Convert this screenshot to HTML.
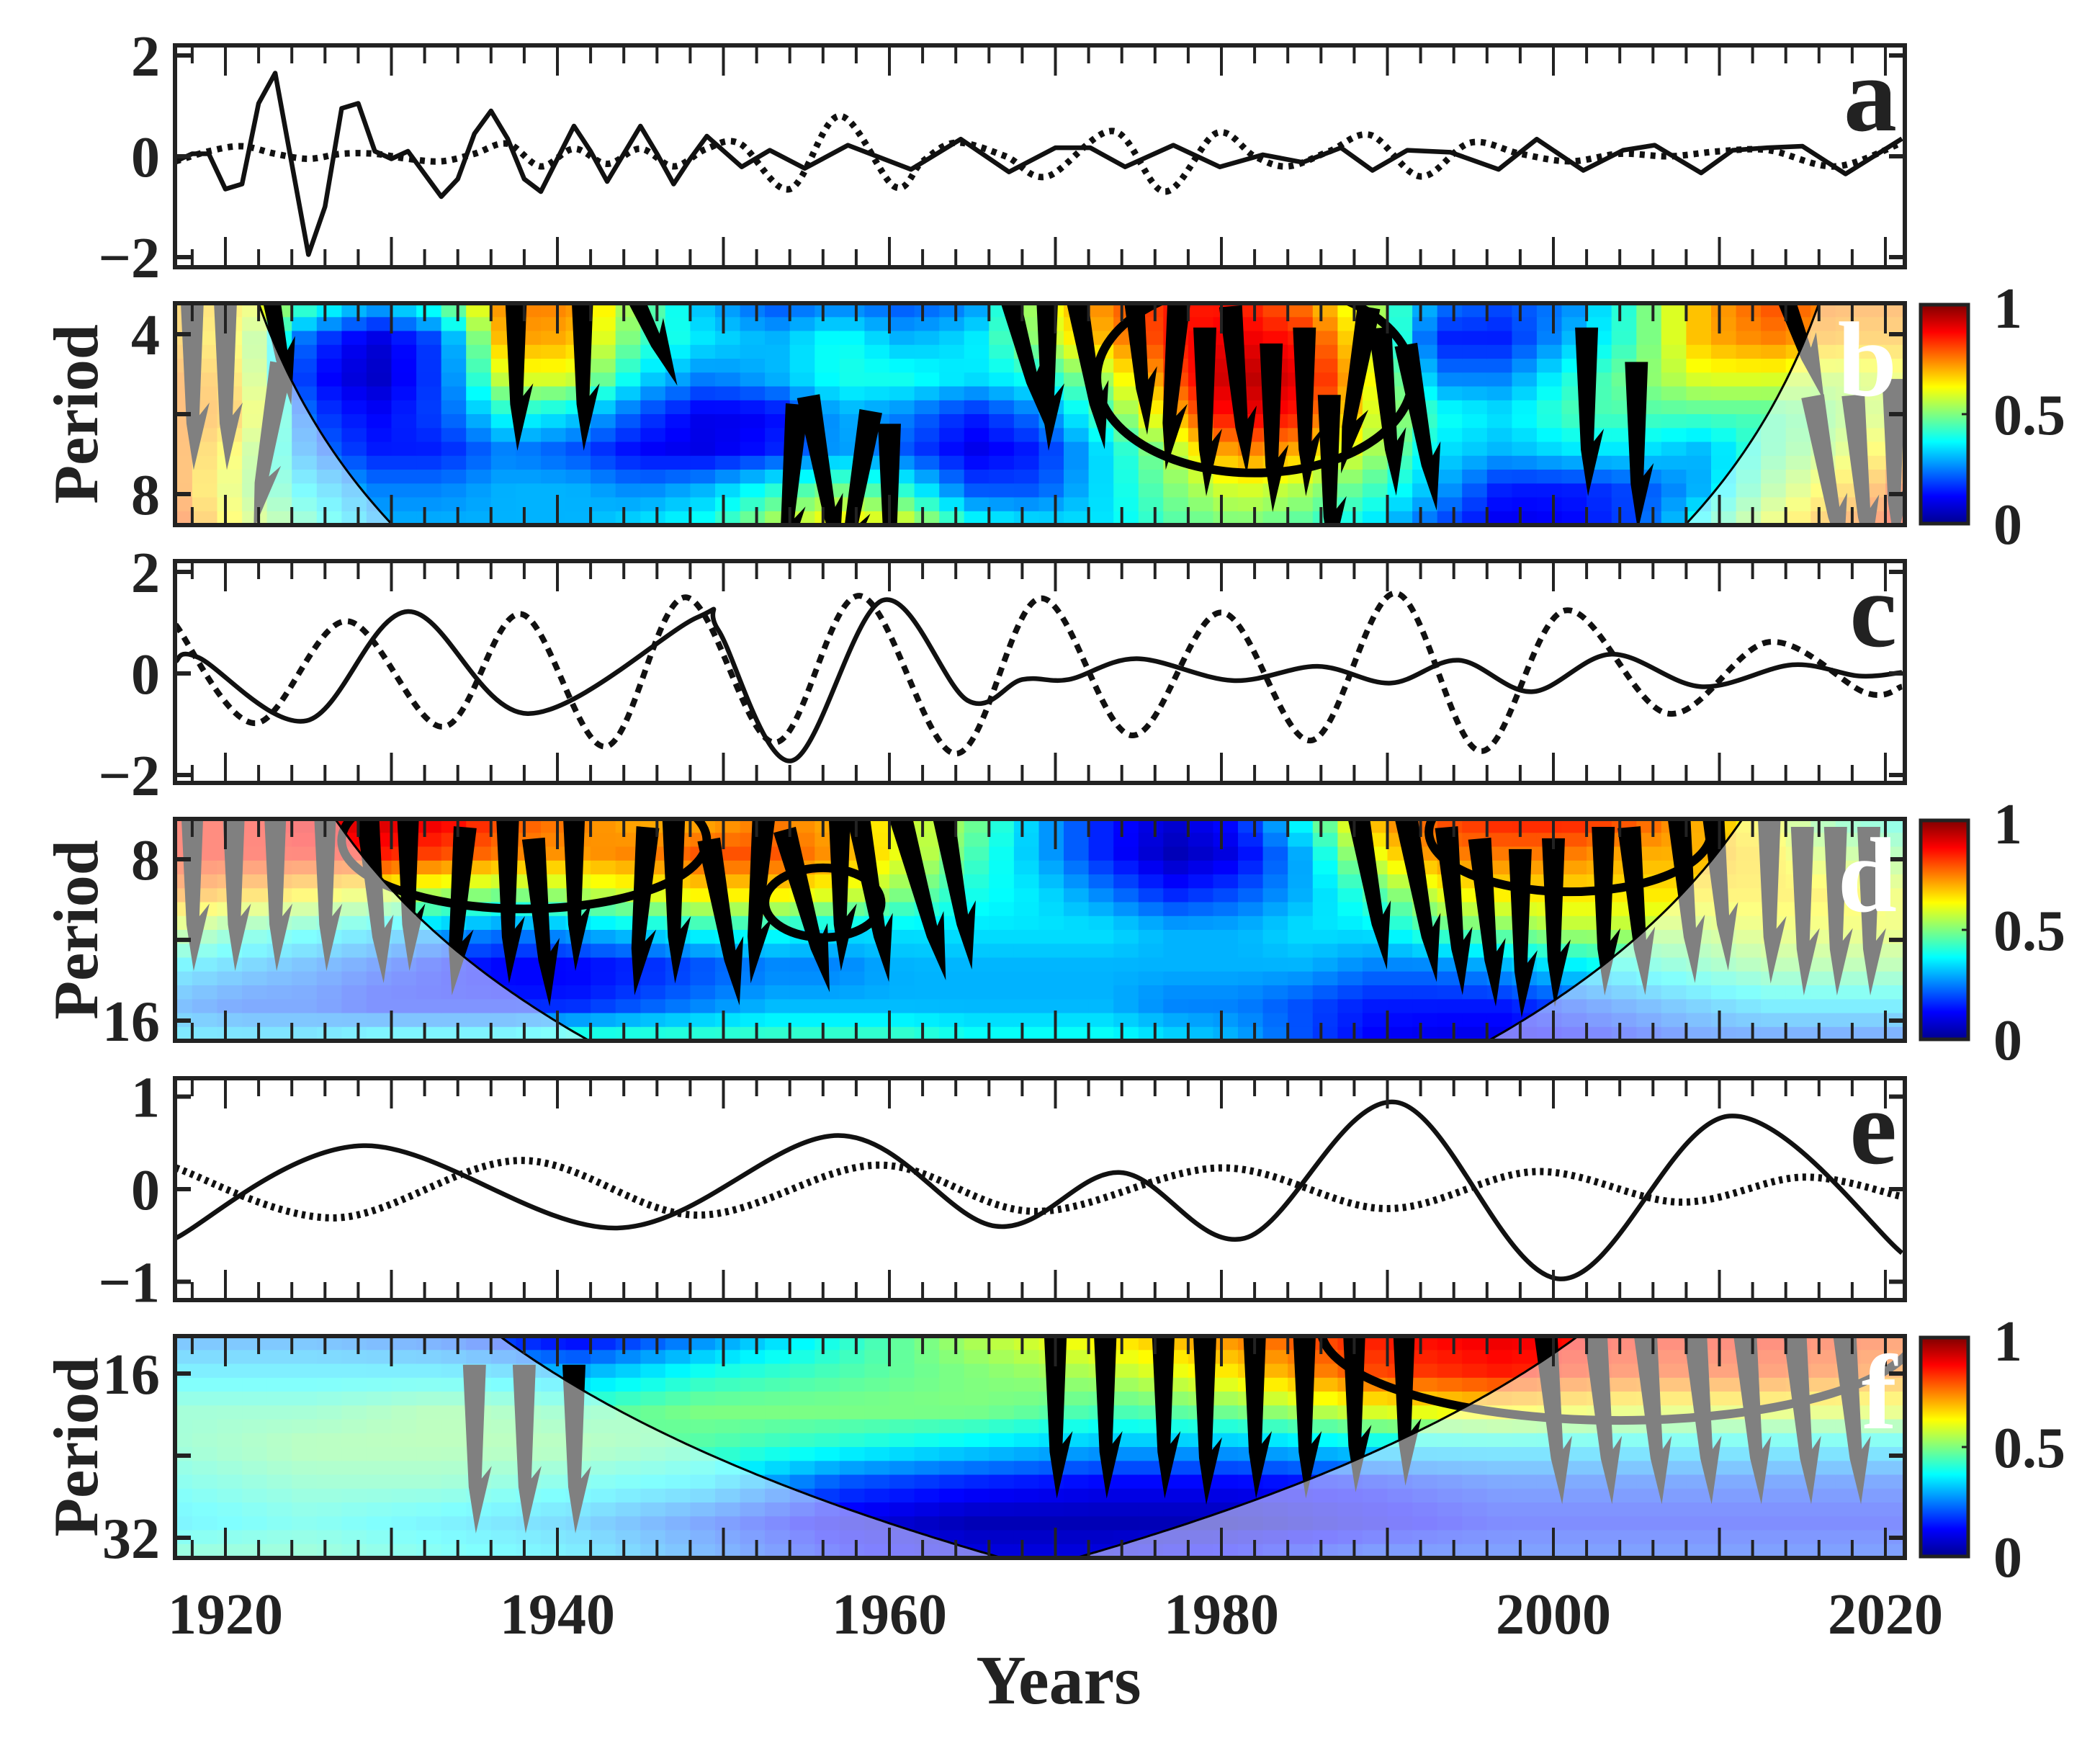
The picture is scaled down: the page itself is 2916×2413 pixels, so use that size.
<!DOCTYPE html>
<html><head><meta charset="utf-8">
<style>
html,body{margin:0;padding:0;background:#fff;}
svg{display:block;}
text{font-family:"Liberation Serif",serif;font-weight:bold;fill:#222;}
</style></head>
<body>
<svg id="fig" xmlns="http://www.w3.org/2000/svg" width="2916" height="2413" viewBox="0 0 2916 2413">
<defs>
<linearGradient id="jetgrad" x1="0" y1="1" x2="0" y2="0">
<stop offset="0" stop-color="#00008f"/><stop offset="0.125" stop-color="#0000ff"/><stop offset="0.375" stop-color="#00ffff"/><stop offset="0.625" stop-color="#ffff00"/><stop offset="0.875" stop-color="#ff0000"/><stop offset="1" stop-color="#800000"/>
</linearGradient>
</defs>
<g id="root"></g>
</svg>
<script>
const aSolidYears=[1917,1918,1919,1920,1921,1922,1923,1924,1925,1926,1927,1928,1929,1930,1931,1932,1933,1934,1935,1936,1937,1938,1939,1940,1941,1942,1943,1944,1945,1946,1947,1948,1949,1951.1,1952.8,1954.9,1957.5,1961.3,1964.3,1967.2,1970,1972.1,1974.2,1977.1,1979.9,1982.5,1984.9,1987.2,1989.1,1991.2,1993.8,1996.7,1999,2001.8,2004.2,2006.1,2008.9,2010.8,2012.9,2015,2017.6,2021];
const aSolidValues=[-0.1,0.05,0.05,-0.65,-0.55,1.05,1.65,-0.15,-1.95,-1.0,0.95,1.05,0.1,-0.05,0.1,-0.35,-0.8,-0.45,0.45,0.9,0.35,-0.45,-0.7,-0.05,0.6,0.1,-0.5,0.05,0.6,0.05,-0.55,-0.05,0.4,-0.21,0.12,-0.24,0.22,-0.26,0.34,-0.31,0.17,0.17,-0.21,0.22,-0.21,0.03,-0.12,0.17,-0.28,0.12,0.08,-0.26,0.34,-0.28,0.12,0.22,-0.33,0.12,0.17,0.2,-0.35,0.35];
const aDotYears=[1917,1919,1921,1923,1925,1927,1929,1931,1933,1935,1937,1939,1941,1943,1945,1947,1949,1951,1954,1957,1960.3,1962,1964,1967,1969.5,1973.5,1976.6,1979.7,1982,1984,1986.5,1989,1992,1995,1998,2001,2004,2007,2010,2013,2017,2021];
const aDotValues=[-0.1,0.1,0.2,0.05,-0.05,0.05,0.05,-0.05,-0.1,0.05,0.25,-0.2,0.15,-0.15,0.15,-0.2,0.15,0.25,-0.65,0.8,-0.6,-0.1,0.27,0,-0.4,0.5,-0.7,0.46,0,-0.2,0.1,0.42,-0.4,0.27,0.05,-0.1,0.05,0,0.1,0.12,-0.2,0.27];
const cSolidYears=[1917,1918.4,1924.9,1931,1938.2,1948.4,1949.7,1954.1,1959.6,1964.7,1968,1970.8,1974.9,1980.7,1985.8,1990.2,1994.3,1998.7,2003.5,2008.9,2014.4,2018.4,2021];
const cSolidValues=[0.24,0.31,-0.93,1.22,-0.79,1.1,0.85,-1.72,1.44,-0.53,-0.12,-0.12,0.29,-0.14,0.14,-0.19,0.26,-0.36,0.38,-0.26,0.17,-0.05,0.02];
const cDotYears=[1917,1921.8,1927.3,1933.1,1937.8,1942.9,1947.7,1953.1,1958.2,1964,1969.1,1974.6,1980,1985.4,1990.5,1995.6,2000.7,2006.9,2013,2018.8,2021];
const cDotValues=[0.96,-0.98,1.03,-1.05,1.17,-1.44,1.5,-1.36,1.53,-1.58,1.48,-1.22,1.2,-1.32,1.58,-1.53,1.24,-0.79,0.62,-0.38,-0.26];
const eSolidYears=[1917,1928.3,1943.6,1956.9,1966.4,1973.9,1981.4,1990.5,2000.4,2010.6,2021];
const eSolidValues=[-0.53,0.47,-0.42,0.58,-0.4,0.18,-0.53,0.94,-0.97,0.79,-0.69];
const eDotYears=[1917,1926.6,1937.8,1948.4,1959.3,1968.8,1980,1989.9,1999,2007.6,2015,2021];
const eDotValues=[0.23,-0.31,0.31,-0.28,0.26,-0.24,0.23,-0.21,0.19,-0.14,0.13,-0.08];
const bCols=[1917,1921,1925,1929,1933,1937,1941,1945,1949,1953,1957,1961,1965,1969,1973,1977,1981,1985,1989,1993,1997,2001,2005,2009,2013,2017,2021];
const bGrid=[[0.7,0.7,0.75,0.75,0.75,0.75,0.8],[0.65,0.6,0.65,0.7,0.6,0.55,0.6],[0.45,0.2,0.15,0.2,0.25,0.35,0.45],[0.3,0.08,0.06,0.12,0.15,0.25,0.3],[0.45,0.2,0.2,0.2,0.15,0.25,0.3],[0.75,0.72,0.6,0.4,0.25,0.3,0.3],[0.75,0.7,0.6,0.35,0.2,0.3,0.3],[0.5,0.45,0.35,0.2,0.12,0.25,0.35],[0.3,0.35,0.25,0.1,0.1,0.3,0.4],[0.2,0.3,0.3,0.12,0.15,0.4,0.55],[0.25,0.4,0.4,0.3,0.3,0.5,0.65],[0.2,0.3,0.4,0.25,0.2,0.4,0.6],[0.25,0.35,0.35,0.15,0.1,0.2,0.4],[0.6,0.55,0.4,0.25,0.15,0.2,0.35],[0.75,0.7,0.55,0.45,0.35,0.35,0.35],[0.85,0.85,0.8,0.7,0.55,0.5,0.45],[0.85,0.9,0.95,0.9,0.75,0.6,0.5],[0.75,0.85,0.9,0.85,0.7,0.55,0.45],[0.55,0.6,0.65,0.6,0.55,0.45,0.35],[0.25,0.15,0.25,0.4,0.35,0.3,0.2],[0.2,0.15,0.25,0.35,0.3,0.15,0.1],[0.25,0.3,0.4,0.45,0.35,0.15,0.12],[0.45,0.45,0.5,0.45,0.35,0.2,0.2],[0.7,0.7,0.6,0.45,0.3,0.3,0.4],[0.8,0.75,0.6,0.45,0.45,0.5,0.6],[0.75,0.7,0.55,0.5,0.55,0.65,0.75],[0.75,0.7,0.6,0.6,0.7,0.8,0.85]];
const dCols=bCols;
const dGrid=[[0.85,0.85,0.75,0.55,0.35,0.25,0.35],[0.85,0.85,0.7,0.45,0.3,0.2,0.35],[0.9,0.85,0.65,0.4,0.25,0.2,0.35],[0.92,0.85,0.6,0.35,0.2,0.15,0.4],[0.9,0.8,0.55,0.3,0.15,0.15,0.4],[0.8,0.75,0.5,0.25,0.12,0.15,0.4],[0.75,0.72,0.55,0.3,0.12,0.15,0.45],[0.7,0.75,0.6,0.35,0.15,0.2,0.45],[0.7,0.8,0.65,0.4,0.2,0.25,0.45],[0.75,0.8,0.65,0.4,0.25,0.3,0.45],[0.7,0.72,0.6,0.35,0.25,0.3,0.45],[0.6,0.6,0.5,0.35,0.3,0.3,0.45],[0.5,0.45,0.4,0.35,0.3,0.3,0.4],[0.3,0.3,0.35,0.35,0.3,0.3,0.4],[0.15,0.15,0.25,0.35,0.3,0.3,0.4],[0.08,0.05,0.15,0.3,0.3,0.25,0.35],[0.15,0.1,0.2,0.3,0.3,0.25,0.3],[0.4,0.3,0.3,0.35,0.3,0.2,0.2],[0.7,0.6,0.45,0.35,0.25,0.15,0.12],[0.8,0.75,0.6,0.45,0.25,0.15,0.1],[0.85,0.75,0.65,0.5,0.3,0.15,0.1],[0.85,0.75,0.65,0.55,0.35,0.2,0.12],[0.8,0.7,0.65,0.55,0.4,0.25,0.15],[0.7,0.7,0.65,0.55,0.45,0.3,0.2],[0.6,0.65,0.65,0.6,0.5,0.35,0.2],[0.45,0.55,0.65,0.6,0.5,0.35,0.2],[0.4,0.5,0.6,0.6,0.5,0.35,0.2]];
const fCols=[1917,1925,1933,1941,1949,1957,1965,1973,1981,1989,1997,2005,2013,2021];
const fGrid=[[0.25,0.35,0.45,0.45,0.4,0.35,0.45],[0.25,0.35,0.45,0.5,0.45,0.4,0.45],[0.2,0.35,0.5,0.5,0.45,0.35,0.4],[0.1,0.3,0.45,0.5,0.4,0.3,0.35],[0.25,0.4,0.5,0.45,0.35,0.2,0.25],[0.4,0.45,0.5,0.4,0.2,0.1,0.15],[0.55,0.5,0.5,0.35,0.15,0.05,0.1],[0.65,0.55,0.45,0.3,0.12,0.05,0.1],[0.75,0.65,0.5,0.3,0.12,0.05,0.15],[0.85,0.8,0.6,0.35,0.15,0.1,0.2],[0.9,0.85,0.65,0.35,0.2,0.15,0.2],[0.85,0.8,0.6,0.35,0.2,0.15,0.2],[0.85,0.8,0.6,0.35,0.2,0.15,0.2],[0.8,0.75,0.6,0.35,0.2,0.15,0.2]];
const bArrowYears=[1918,1920,1922.5,1923,1937.5,1941.5,1945,1954,1956,1958,1960,1968,1969.5,1972,1975,1977,1979,1981,1983,1985,1986.5,1988,1990,1992,2002,2005,2014.5,2016.5,2018.5,2020.5];
const bArrowPeriods=[5,5,6.5,3.8,4.6,4.6,3.6,7.8,7.5,8,8.5,4.2,4.6,4.6,4.3,5,5.6,5.1,6,5.6,7.5,5.1,5.6,6,5.6,6.5,3.8,7.5,7.5,7];
const bArrowAngles=[0,0,10,-10,0,0,-25,5,-10,10,0,-15,0,-10,-5,5,0,-5,0,0,0,10,-5,-10,0,0,-20,-10,-5,0];
const dArrowYears=[1918,1920.5,1923,1926,1929,1931,1934,1937,1939,1941,1945,1947,1950,1952,1955,1957,1959,1962,1964,1989,1992,1994,1996,1998,2000,2003,2005,2008,2010,2013,2015,2017,2019];
const dArrowPeriods=[9,9,9,9,9.5,9,10,9.5,10.5,9,10,9.5,10.5,9.5,10,9,9.5,9.5,9,9,9.5,10,10.5,11,10.5,10,10,9.5,9,9.5,10,10,10];
const dArrowAngles=[0,0,0,0,-5,0,5,0,-5,0,5,0,-10,5,-15,0,-10,-15,-10,-10,-10,-5,-5,0,0,0,-5,-5,-5,0,0,0,0];
const fArrowYears=[1935,1938,1941,1970,1973,1976.5,1979,1982,1985,1988,1991,2000,2003,2006,2009,2012,2015,2018];
const fArrowPeriods=[22,22,22,19,19,19,19.5,19,19,18.5,18,19.5,19.5,19.5,19.5,19.5,19.5,19.5];
const fArrowAngles=[0,0,0,0,0,0,0,0,0,0,0,-5,-5,-5,-5,-5,-5,-5];
const bContYears=[1982];const bContHalf=[9.5];const bContTop=[3.2];const bContBot=[7.3];
const dContYears=[1938,1956,2001];const dContHalf=[11,3.5,8.5];const dContTop=[5.5,8.3,5.5];const dContBot=[9.9,11.2,9.2];
const fContYears=[2004];const fContHalf=[18];const fContTop=[9];const fContBot=[19.5];
const xTickLabels=[1920,1940,1960,1980,2000,2020];
const coiFactor=0.7;

const SVGNS="http://www.w3.org/2000/svg";
const root=document.getElementById('root');
const L=243,R=2645,H=308;
const tops=[63,421,779,1137,1497,1855];
function X(yr){return 313+(yr-1920)*23.05;}
function mk(tag,attrs,parent){const e=document.createElementNS(SVGNS,tag);for(const k in attrs)e.setAttribute(k,attrs[k]);(parent||root).appendChild(e);return e;}
function jet(v){v=Math.max(0,Math.min(1,v));const c=t=>Math.round(255*Math.max(0,Math.min(1,1.5-Math.abs(t))));return `rgb(${c(4*v-3)},${c(4*v-2)},${c(4*v-1)})`;}
function smoothPath(px,py){let d=`M${px[0]},${py[0]}`;for(let i=0;i<px.length-1;i++){const x0=px[Math.max(0,i-1)],y0=py[Math.max(0,i-1)],x1=px[i],y1=py[i],x2=px[i+1],y2=py[i+1],x3=px[Math.min(px.length-1,i+2)],y3=py[Math.min(px.length-1,i+2)];d+=` C${x1+(x2-x0)/6},${y1+(y2-y0)/6} ${x2-(x3-x1)/6},${y2-(y3-y1)/6} ${x2},${y2}`;}return d;}
function linePath(px,py){return 'M'+px.map((x,i)=>x.toFixed(1)+','+py[i].toFixed(1)).join(' L');}

function xTicks(g,top){
  for(let yr=1918;yr<=2020;yr+=2){
    const big=yr%10===0, len=big?42:25, x=X(yr);
    const t1=mk('line',{x1:x,y1:top,x2:x,y2:top+len,stroke:'#222','stroke-width':4},g);
    
    
    const t2=mk('line',{x1:x,y1:top+H,x2:x,y2:top+H-len,stroke:'#222','stroke-width':4},g);
    
    
  }
}
function yTick(g,y,label){
  mk('line',{x1:L,y1:y,x2:L+22,y2:y,stroke:'#222','stroke-width':6},g);
  mk('line',{x1:R,y1:y,x2:R-22,y2:y,stroke:'#222','stroke-width':6},g);
  if(label!==null){const t=mk('text',{x:222,y:y,'font-size':80,'text-anchor':'end',dy:'0.35em'},g);t.textContent=label;
    
    }
}
function frame(g,top){const f=mk('rect',{x:L,y:top,width:R-L,height:H,fill:'none',stroke:'#222','stroke-width':6},g);
  
  }
function letter(g,top,ch,white){const t=mk('text',{x:2634,y:top+(white?128:118),'font-size':148,'text-anchor':'end',style:white?'fill:#fff':''},g);t.textContent=ch;
  
  }
function clip(id,top){const cp=mk('clipPath',{id:id},document.querySelector('defs'));mk('rect',{x:L,y:top,width:R-L,height:H},cp);}

function linePanel(idx,ch,zeroOff,unit,ticks,sy,sv,dy,dv,solidSmooth,dash,dw){
  const top=tops[idx];
  const g=mk('g',{});
  
  
  clip('clip'+ch,top);
  const Y=v=>top+zeroOff-v*unit;
  const inner=mk('g',{'clip-path':`url(#clip${ch})`},g);
  const dp=mk('path',{d:smoothPath(dy.map(X),dv.map(Y)),fill:'none',stroke:'#111','stroke-width':dw,'stroke-dasharray':dash},inner);
  
  
  const sp=mk('path',{d:solidSmooth?smoothPath(sy.map(X),sv.map(Y)):linePath(sy.map(X),sv.map(Y)),fill:'none',stroke:'#111','stroke-width':6.5,'stroke-linejoin':'round'},inner);
  
  
  xTicks(g,top);
  ticks.forEach(v=>yTick(g,Y(v),(v<0?'\u2212':'')+Math.abs(v)));
  frame(g,top);letter(g,top,ch,false);
}

function heatPanel(idx,ch,refP,refOff,oct,cols,grid,tickP,tickLab,ay,ap,aa,cy,ch2,ct,cb){
  const top=tops[idx];
  const g=mk('g',{});
  
  
  clip('clip'+ch,top);
  const Y=p=>top+refOff+(Math.log2(p)-Math.log2(refP))*oct;
  const inner=mk('g',{'clip-path':`url(#clip${ch})`},g);
  const nr=grid[0].length;
  const cw=1.5, rows=16, rh=H/rows;
  for(let yr=1916.5;yr<2021.5;yr+=cw){
    const yc=yr+cw/2;
    let j=0;while(j<cols.length-2&&cols[j+1]<yc)j++;
    let fx=(yc-cols[j])/(cols[j+1]-cols[j]);fx=Math.max(0,Math.min(1,fx));
    for(let r=0;r<rows;r++){
      const rp=(r+0.5)/rows*(nr-1);
      const k=Math.min(nr-2,Math.floor(rp)),fy=rp-k;
      const v=(1-fx)*((1-fy)*grid[j][k]+fy*grid[j][k+1])+fx*((1-fy)*grid[j+1][k]+fy*grid[j+1][k+1]);
      const c=mk('rect',{x:X(yr).toFixed(1),y:(top+r*rh).toFixed(1),width:(cw*23.05+1).toFixed(1),height:(rh+1).toFixed(1),fill:jet(v)},inner);
      
      
    }
  }
  cy.forEach((yc,i)=>{
    const y1=Y(ct[i]),y2=Y(cb[i]);
    const e=mk('ellipse',{cx:X(yc),cy:(y1+y2)/2,rx:ch2[i]*23.05,ry:(y2-y1)/2,fill:'none',stroke:'#000','stroke-width':12},inner);
    
    
  });
  ay.forEach((yr,i)=>{
    const cx=X(yr),cyy=Y(ap[i]),Lh=H*0.38;
    const a=mk('polygon',{points:`-16,${-Lh} 16,${-Lh} 10,${Lh*0.35} 24,${Lh*0.2} 2,${Lh} -8,${Lh*0.45}`,fill:'#000',transform:`translate(${cx.toFixed(1)},${cyy.toFixed(1)}) rotate(${aa[i]})`},inner);
    
    
  });
  const pts=[];
  for(let t=1916.5;t<=2021.5;t+=0.25){const p=coiFactor*Math.min(t-1917,2021-t);pts.push([X(t),Math.min(top+H+5,Y(Math.max(p,0.3)))]);}
  const poly=pts.map(p=>p[0].toFixed(1)+','+p[1].toFixed(1)).join(' ');
  const below=mk('path',{d:`M${L-5},${top-5} L${pts.map(p=>p[0].toFixed(1)+','+Math.max(top-5,p[1]).toFixed(1)).join(' L')} L${R+5},${top-5} L${R+5},${top+H+5} L${L-5},${top+H+5} Z`,fill:'#fff','fill-opacity':0.5},inner);
  
  
  const cl=mk('polyline',{points:poly,fill:'none',stroke:'#000','stroke-width':3},inner);
  
  
  xTicks(g,top);
  tickP.forEach((p,i)=>yTick(g,Y(p),tickLab[i]));
  frame(g,top);letter(g,top,ch,true);
  const pl=mk('text',{x:0,y:0,'font-size':88,'text-anchor':'middle',transform:`translate(135,${top+H/2}) rotate(-90)`},g);pl.textContent='Period';
  
  
  const cbg=mk('g',{},g);
  
  
  mk('rect',{x:2667,y:top+2,width:66,height:H-4,fill:'url(#jetgrad)',stroke:'#222','stroke-width':5},cbg);
  mk('line',{x1:2733,y1:top+H/2,x2:2724,y2:top+H/2,stroke:'#222','stroke-width':3},cbg);
  [['1',top+6],['0.5',top+H/2],['0',top+H-2]].forEach(([s,y])=>{const t=mk('text',{x:2768,y:y,'font-size':80,dy:'0.35em'},cbg);t.textContent=s;
    
    });
}

linePanel(0,'a',154,70,[2,0,-2],aSolidYears,aSolidValues,aDotYears,aDotValues,false,'7 8',9);
heatPanel(1,'b',4,43,222,bCols,bGrid,[4,5.657,8],['4',null,'8'],bArrowYears,bArrowPeriods,bArrowAngles,bContYears,bContHalf,bContTop,bContBot);
linePanel(2,'c',156,70.5,[2,0,-2],cSolidYears,cSolidValues,cDotYears,cDotValues,true,'12 9',8);
heatPanel(3,'d',8,56,224,dCols,dGrid,[8,11.31,16],['8',null,'16'],dArrowYears,dArrowPeriods,dArrowAngles,dContYears,dContHalf,dContTop,dContBot);
linePanel(4,'e',154,128.5,[1,0,-1],eSolidYears,eSolidValues,eDotYears,eDotValues,true,'5 6',10);
heatPanel(5,'f',16,52,228,fCols,fGrid,[16,22.63,32],['16',null,'32'],fArrowYears,fArrowPeriods,fArrowAngles,fContYears,fContHalf,fContTop,fContBot);

xTickLabels.forEach(v=>{const t=mk('text',{x:X(v),y:2268,'font-size':80,'text-anchor':'middle'});t.textContent=v;
  
  });
const xt=mk('text',{x:1470,y:2365,'font-size':96,'text-anchor':'middle'});xt.textContent='Years';


</script>
</body></html>
